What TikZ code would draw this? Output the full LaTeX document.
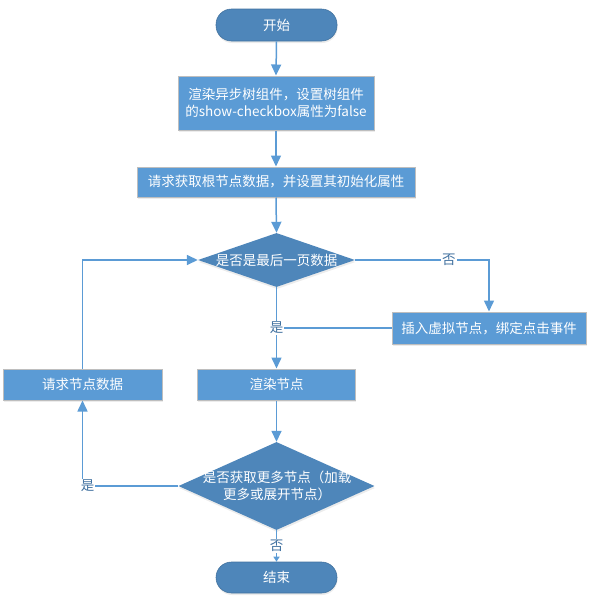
\documentclass[tikz,border=0pt]{standalone}
\usepackage{fontspec}
\newfontfamily\cjk{Noto Sans CJK SC}
\usetikzlibrary{shapes.geometric,arrows.meta,shadows}
\definecolor{boxblue}{RGB}{91,155,213}
\definecolor{darkblue}{RGB}{78,134,186}
\definecolor{edgegrey}{RGB}{190,190,190}
\definecolor{labblue}{RGB}{65,113,160}
\begin{document}
\begin{tikzpicture}[x=1pt,y=-1pt,
  every node/.style={font=\cjk\fontsize{13.5}{17}\selectfont},
  shade/.style={drop shadow={shadow xshift=0.5pt,shadow yshift=-2pt,opacity=0.12,fill=black!60}},
  terminal/.style={rectangle,rounded corners=15.5pt,fill=darkblue,draw=darkblue!85!black,line width=0.6pt,
    text=white,inner sep=0pt,minimum width=121pt,minimum height=32pt,shade},
  procbox/.style={rectangle,fill=boxblue,draw=edgegrey,line width=1pt,text=white,
    inner sep=0pt,minimum height=31pt,align=center,shade},
  decision/.style={diamond,fill=darkblue,inner sep=0pt,shade},
  dtext/.style={text=white,align=center,inner sep=0pt},
  conn/.style={draw=boxblue,line width=1.5pt,-{Triangle[length=11pt,width=10pt]}},
  plain/.style={draw=boxblue,line width=1.5pt},
  lab/.style={fill=white,text=labblue,inner sep=1pt}]
\useasboundingbox (0,0) rectangle (592,600);

\node[terminal] (start) at (276.5,25) {开始};
\node[procbox,minimum width=196pt,minimum height=54pt] (b1) at (276,103)
  {渲染异步树组件，设置树组件\\的show-checkbox属性为false};
\node[procbox,minimum width=278pt,minimum height=30pt] (b2) at (276,182)
  {请求获取根节点数据，并设置其初始化属性};
\node[decision,minimum width=157pt,minimum height=54pt] (d1) at (276.5,260) {};
\node[dtext] (d1t) at (d1) {是否是最后一页数据};
\node[procbox,minimum width=194pt,minimum height=32pt] (rb) at (489,328)
  {插入虚拟节点，绑定点击事件};
\node[procbox,minimum width=159pt] (req) at (82.5,384.5) {请求节点数据};
\node[procbox,minimum width=158pt] (render) at (276.5,384.5) {渲染节点};
\node[decision,minimum width=196pt,minimum height=88pt] (d2) at (276.5,486) {};
\node[dtext] (d2t) at (277,486) {是否获取更多节点（加载\\更多或展开节点）};
\node[terminal,minimum height=31pt] (end) at (276.5,577.5) {结束};

\draw[conn] (start.south) -- (b1.north);
\draw[conn] (b1.south) -- (b2.north);
\draw[conn] (b2.south) -- (d1.north);
\draw[conn] (d1.east) -- node[lab,pos=0.7] {否} (d1.east -| rb.north) -- (rb.north);
\draw[conn] (d1.south) -- (render.north);
\draw[plain] (rb.west) -- coordinate (j) (rb.west -| d1.south);
\node[lab] (yes1) at (rb.west -| d1.south) {是};
\draw[conn] (render.south) -- (d2.north);
\draw[conn] (d2.west) -| (req.south);
\node[lab,xshift=5pt] (yes2) at (d2.west -| req.south) {是};
\draw[conn] (req.north) |- (d1.west);
\draw[draw=boxblue,line width=1.5pt,-{Triangle[length=5pt,width=6pt]}] (d2.south) -- node[lab,pos=0.5] {否} (end.north);
\end{tikzpicture}
\end{document}
